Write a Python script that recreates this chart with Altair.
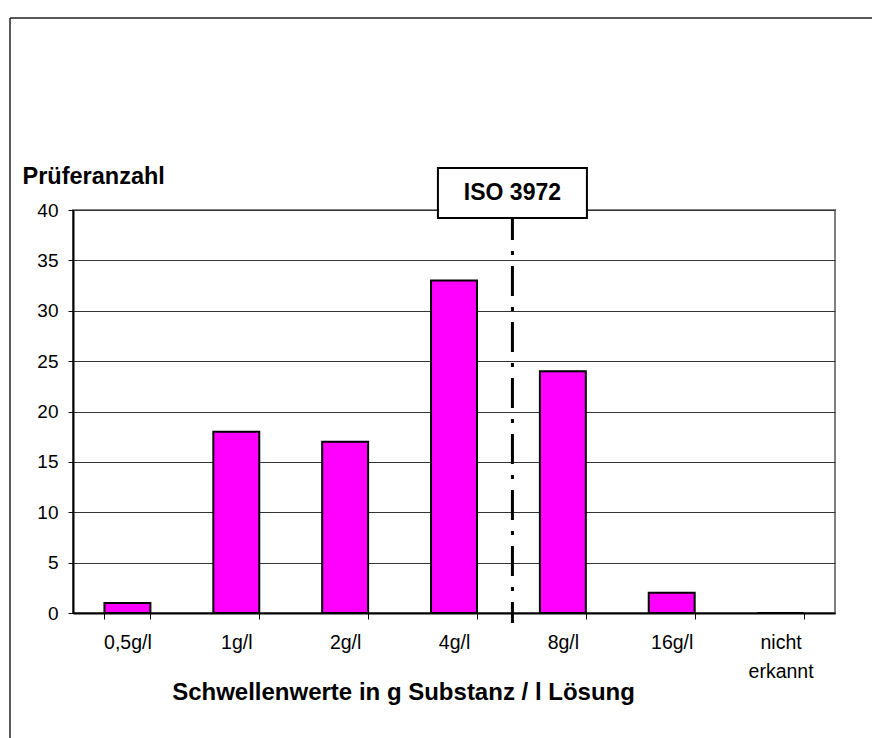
import altair as alt
import pandas as pd

# Schwellenwert-Kategorien und Anzahl der Prüfer je Kategorie
categories = ["0,5g/l", "1g/l", "2g/l", "4g/l", "8g/l", "16g/l", "nicht erkannt"]
counts = [1, 18, 17, 33, 24, 2, 0]

# ISO-3972-Markierung zwischen 4 g/l und 8 g/l
iso_label = "ISO 3972"
iso_after = "4g/l"
iso_top = 40
iso_bottom = -1

y_ticks = [0, 5, 10, 15, 20, 25, 30, 35, 40]

FONT = "Liberation Sans"
PLOT_W, PLOT_H = 762, 403
PAD_INNER = 0.578
STEP = PLOT_W / len(categories)
# from the right edge of a bar to the boundary between two categories, nudged a bit right
ISO_SHIFT = STEP * PAD_INNER / 2 + 4

bars_df = pd.DataFrame({"Schwelle": categories, "Anzahl": counts})
iso_df = pd.DataFrame(
    {"Schwelle": [iso_after], "oben": [iso_top], "unten": [iso_bottom], "label": [iso_label]}
)

x_scale = alt.Scale(domain=categories, paddingInner=PAD_INNER, paddingOuter=PAD_INNER / 2)
y_scale = alt.Scale(domain=[0, 40], nice=False)

x_axis = alt.Axis(
    title="Schwellenwerte in g Substanz / l Lösung",
    titleFont=FONT, titleFontSize=24, titleFontWeight="bold", titleColor="black",
    titleX=330, titleY=86, titleAlign="center", titleBaseline="alphabetic",
    labelFont=FONT, labelFontSize=19.5, labelColor="black", labelAngle=0,
    labelPadding=14, labelBaseline="top", labelLineHeight=29,
    labelExpr="split(datum.label, ' ')",
    tickBand="extent", tickSize=6, tickColor="black", tickWidth=1,
    domainColor="black", domainWidth=2, grid=False,
)

y_axis = alt.Axis(
    title="Prüferanzahl",
    titleFont=FONT, titleFontSize=23.5, titleFontWeight="bold", titleColor="black",
    titleAngle=0, titleX=-51, titleY=-27, titleAlign="left", titleBaseline="alphabetic",
    labelFont=FONT, labelFontSize=19, labelColor="black", labelPadding=10,
    values=y_ticks, tickSize=5, tickColor="black", tickWidth=1,
    domainColor="black", domainWidth=2,
    grid=True, gridColor="#333333", gridWidth=1,
)

# figure frame: top and left edges, running off the right and bottom of the page
frame_src = alt.Chart(pd.DataFrame({"f": [0]}))
frame_top = frame_src.mark_rule(color="#222222", strokeWidth=1.5).encode(
    x=alt.value(-63), x2=alt.value(PLOT_W + 80), y=alt.value(-192)
)
frame_left = frame_src.mark_rule(color="#222222", strokeWidth=1.5).encode(
    x=alt.value(-63), y=alt.value(-192), y2=alt.value(PLOT_H + 160)
)

bars = alt.Chart(bars_df).mark_bar(
    color="#FF00FF", stroke="black", strokeWidth=2
).encode(
    x=alt.X("Schwelle:N", scale=x_scale, sort=categories, axis=x_axis),
    y=alt.Y("Anzahl:Q", scale=y_scale, axis=y_axis),
)

iso_line = alt.Chart(iso_df).mark_rule(
    color="black", strokeWidth=3, strokeDash=[30, 11, 4, 11], xOffset=ISO_SHIFT
).encode(
    x=alt.X("Schwelle:N", bandPosition=1),
    y=alt.Y("oben:Q"),
    y2="unten:Q",
)

box_path = "M-1,-0.3356L1,-0.3356L1,0.3356L-1,0.3356Z"
iso_box = alt.Chart(iso_df).mark_point(
    shape=box_path, size=149 * 149, filled=True, fill="white",
    stroke="black", strokeWidth=2, opacity=1, xOffset=ISO_SHIFT, yOffset=-17,
).encode(
    x=alt.X("Schwelle:N", bandPosition=1),
    y=alt.Y("oben:Q"),
)

iso_text = alt.Chart(iso_df).mark_text(
    font=FONT, fontSize=23, fontWeight="bold", color="black",
    align="center", baseline="middle", xOffset=ISO_SHIFT, yOffset=-17,
).encode(
    x=alt.X("Schwelle:N", bandPosition=1),
    y=alt.Y("oben:Q"),
    text="label:N",
)

chart = alt.layer(frame_top, frame_left, bars, iso_line, iso_box, iso_text).properties(
    width=PLOT_W,
    height=PLOT_H,
    padding={"left": 73, "top": 210, "right": 37, "bottom": 125},
    autosize=alt.AutoSizeParams(type="none"),
    background="white",
).configure_view(
    stroke="#808080", strokeWidth=2
)

chart.save("out.html", embed_options={"renderer": "svg", "actions": False})
